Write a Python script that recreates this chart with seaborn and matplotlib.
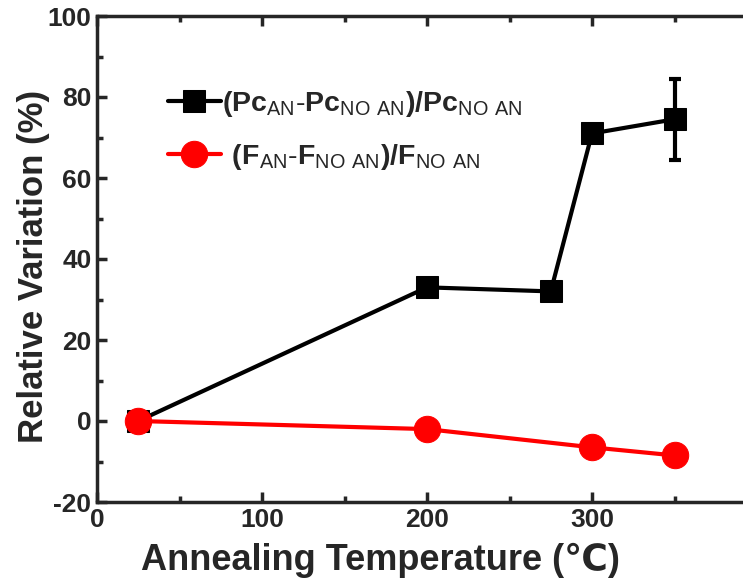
import numpy as np
import pandas as pd
import matplotlib
matplotlib.use("Agg")
import matplotlib.pyplot as plt
from matplotlib.ticker import MultipleLocator
import seaborn as sns

# data
temp_pc = [25, 200, 275, 300, 350]
var_pc = [0, 33, 32, 71, 74.5]
err_pc = [0, 0, 0, 0, 10]
temp_f = [25, 200, 300, 350]
var_f = [0, -2, -6.5, -8.5]

sns.set_style("ticks")
plt.rcParams['font.family'] = ['Liberation Sans', 'DejaVu Sans']
plt.rcParams['font.weight'] = 'bold'
plt.rcParams['axes.unicode_minus'] = False
plt.rcParams['mathtext.fontset'] = 'custom'
plt.rcParams['mathtext.rm'] = 'Liberation Sans:weight=normal'
plt.rcParams['mathtext.bf'] = 'Liberation Sans:weight=bold'

fig = plt.figure(figsize=(7.43, 5.84), dpi=100)
ax = fig.add_axes([97 / 743, 82 / 584, 660 / 743, 486 / 584])

df_pc = pd.DataFrame({'T': temp_pc, 'V': var_pc})
df_f = pd.DataFrame({'T': temp_f, 'V': var_f})

pc_label = (r'$\mathbf{(Pc}_{\mathrm{AN}}\mathbf{\text{-}Pc}_{\mathrm{NO\ AN}}'
            r'\mathbf{)/Pc}_{\mathrm{NO\ AN}}$')
f_label = (r'$\mathbf{\ (F}_{\mathrm{AN}}\mathbf{\text{-}F}_{\mathrm{NO\ AN}}'
           r'\mathbf{)/F}_{\mathrm{NO\ AN}}$')

ax.errorbar(temp_pc, var_pc, yerr=err_pc, fmt='none', ecolor='black',
            elinewidth=3, capsize=4.5, capthick=3, zorder=2)
sns.lineplot(data=df_pc, x='T', y='V', ax=ax, color='black', marker='s',
             markersize=16.5, linewidth=3, markeredgecolor='black',
             label=pc_label, zorder=3)
sns.lineplot(data=df_f, x='T', y='V', ax=ax, color='red', marker='o',
             markersize=19, linewidth=3, markeredgecolor='red',
             label=f_label, zorder=4)

ax.set_xlim(0, 400)
ax.set_ylim(-20, 100)
ax.set_xticks([0, 100, 200, 300])
ax.set_xticks([50, 150, 250, 350], minor=True)
ax.yaxis.set_major_locator(MultipleLocator(20))
ax.yaxis.set_minor_locator(MultipleLocator(10))
ax.tick_params(which='both', direction='in', top=True, right=True,
               width=2.5, labelsize=19, pad=4)
ax.tick_params(which='major', length=7)
ax.tick_params(which='minor', length=4)
for sp in ax.spines.values():
    sp.set_linewidth(2.5)

ax.set_xlabel('Annealing Temperature (\u2103)', fontsize=26, fontweight='bold')
ax.set_ylabel('Relative Variation (%)', fontsize=25, fontweight='bold')
ax.xaxis.set_label_coords(0.429, -0.085)
ax.yaxis.set_label_coords(-0.071, 0.485)

ax.legend(loc='upper left', bbox_to_anchor=(0.1076, 0.85), frameon=False,
          borderaxespad=0, borderpad=0,
          fontsize=20.5, handlelength=1.85, handletextpad=0.05, labelspacing=0.8)

fig.savefig('out.png', dpi=100)
